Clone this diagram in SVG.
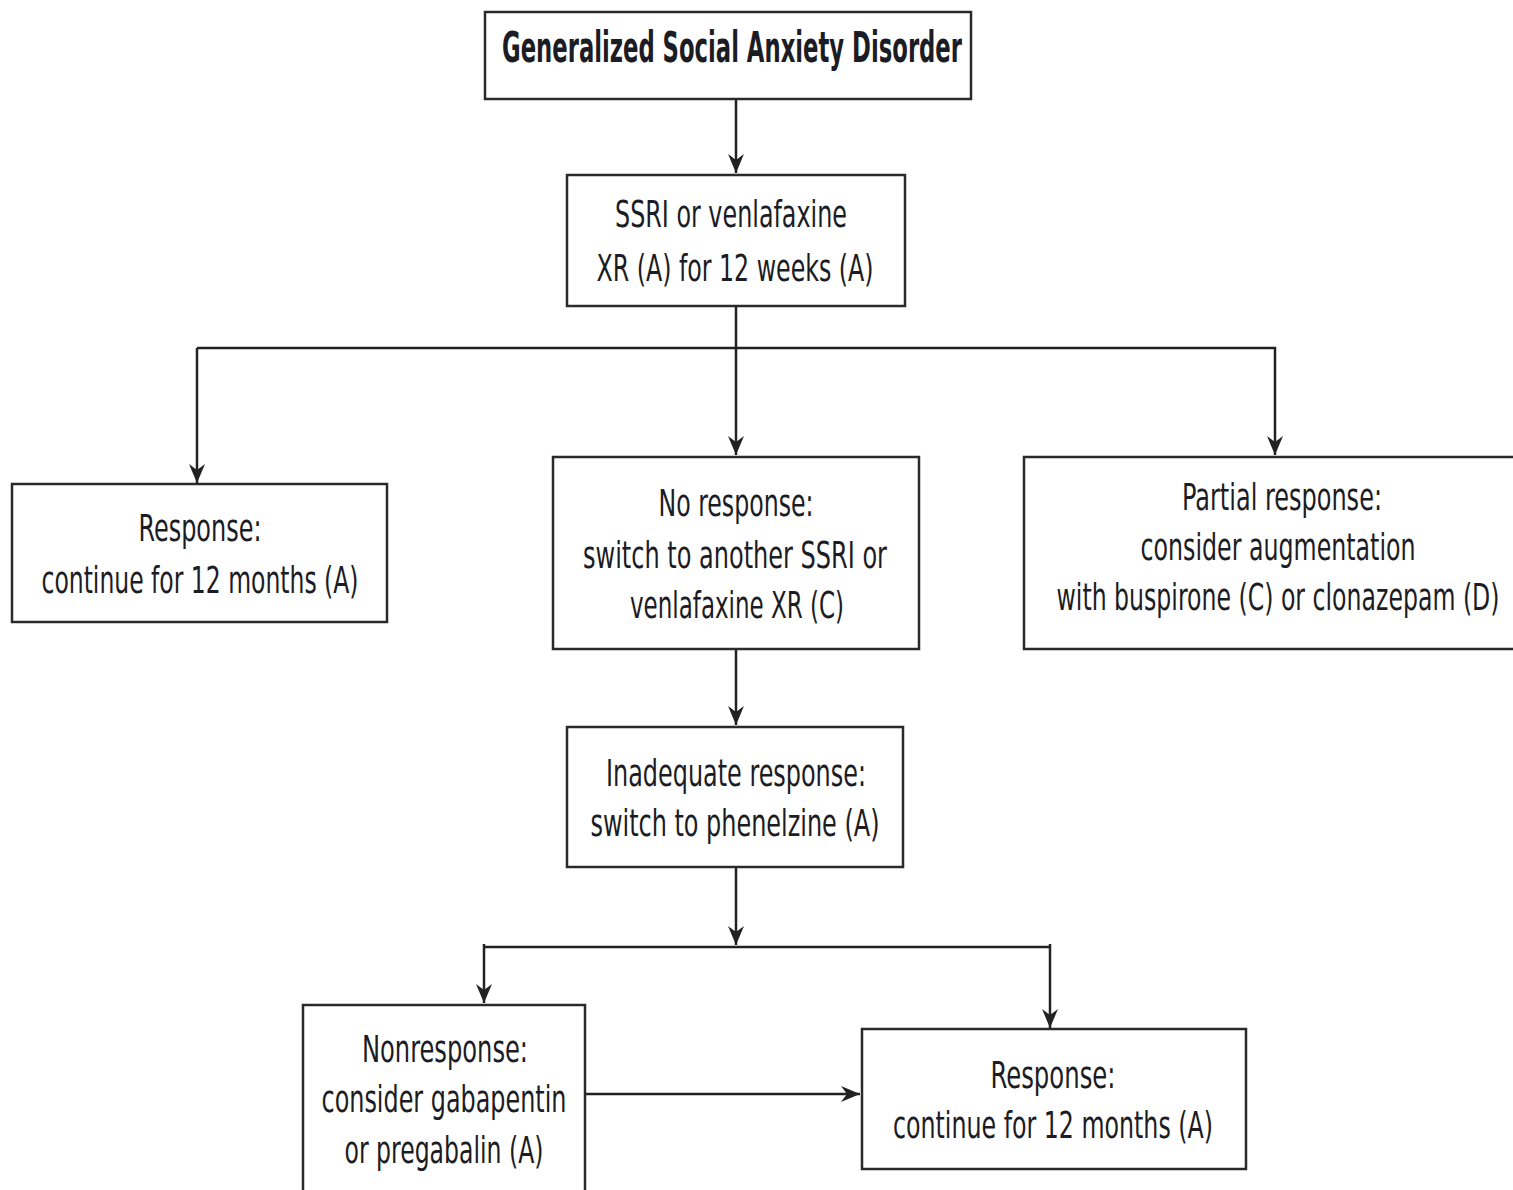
<svg xmlns="http://www.w3.org/2000/svg" width="1513" height="1190" viewBox="0 0 1513 1190">
<style>
.box{fill:#fff;stroke:#2a2a2a;stroke-width:2.5}
.t{font-family:"Liberation Sans Narrow","DejaVu Sans Condensed","Liberation Sans",sans-serif;font-size:38px;fill:#1c1c24;text-anchor:middle}
.b{font-weight:bold;font-size:42px}
.c{fill:none;stroke:#222;stroke-width:2.5}
</style>
<defs>
<marker id="ah" markerUnits="userSpaceOnUse" markerWidth="22" markerHeight="18" viewBox="-20 -9 22 18" refX="0" refY="0" orient="auto">
<path d="M0,0 L-19,-8 L-13,0 L-19,8 Z" fill="#222"/>
</marker>
</defs>
<rect width="1513" height="1190" fill="#fff"/>
<g id="connectors">
<line class="c" x1="736" y1="99" x2="736" y2="173" marker-end="url(#ah)"/>
<line class="c" x1="736" y1="306" x2="736" y2="455" marker-end="url(#ah)"/>
<polyline class="c" points="197,348 1275,348 1275,455" marker-end="url(#ah)"/>
<line class="c" x1="197" y1="348" x2="197" y2="483" marker-end="url(#ah)"/>
<line class="c" x1="736" y1="649" x2="736" y2="725" marker-end="url(#ah)"/>
<line class="c" x1="736" y1="867" x2="736" y2="945" marker-end="url(#ah)"/>
<polyline class="c" points="484,947 1050,947"/>
<line class="c" x1="484" y1="944" x2="484" y2="1003" marker-end="url(#ah)"/>
<line class="c" x1="1050" y1="944" x2="1050" y2="1028" marker-end="url(#ah)"/>
<line class="c" x1="585" y1="1094" x2="860" y2="1094" marker-end="url(#ah)"/>
</g>
<g id="n1">
<rect class="box" x="485" y="12" width="486" height="87"/>
<text class="t b" x="732" y="62" textLength="460" lengthAdjust="spacingAndGlyphs">Generalized Social Anxiety Disorder</text>
</g>
<g id="n2">
<rect class="box" x="567" y="175" width="338" height="131"/>
<text class="t" x="731" y="227" textLength="232" lengthAdjust="spacingAndGlyphs">SSRI or venlafaxine</text>
<text class="t" x="735" y="281" textLength="277" lengthAdjust="spacingAndGlyphs">XR (A) for 12 weeks (A)</text>
</g>
<g id="n3">
<rect class="box" x="12" y="484" width="375" height="138"/>
<text class="t" x="200" y="541" textLength="123" lengthAdjust="spacingAndGlyphs">Response:</text>
<text class="t" x="200" y="593" textLength="317" lengthAdjust="spacingAndGlyphs">continue for 12 months (A)</text>
</g>
<g id="n4">
<rect class="box" x="553" y="457" width="366" height="192"/>
<text class="t" x="736" y="516" textLength="155" lengthAdjust="spacingAndGlyphs">No response:</text>
<text class="t" x="735" y="568" textLength="304" lengthAdjust="spacingAndGlyphs">switch to another SSRI or</text>
<text class="t" x="737" y="618" textLength="214" lengthAdjust="spacingAndGlyphs">venlafaxine XR (C)</text>
</g>
<g id="n5">
<path class="box" d="M1513,457 H1024 V649 H1513"/>
<text class="t" x="1282" y="510" textLength="200" lengthAdjust="spacingAndGlyphs">Partial response:</text>
<text class="t" x="1278" y="560" textLength="275" lengthAdjust="spacingAndGlyphs">consider augmentation</text>
<text class="t" x="1278" y="610" textLength="443" lengthAdjust="spacingAndGlyphs">with buspirone (C) or clonazepam (D)</text>
</g>
<g id="n6">
<rect class="box" x="567" y="727" width="336" height="140"/>
<text class="t" x="736" y="786" textLength="260" lengthAdjust="spacingAndGlyphs">Inadequate response:</text>
<text class="t" x="735" y="836" textLength="289" lengthAdjust="spacingAndGlyphs">switch to phenelzine (A)</text>
</g>
<g id="n7">
<path class="box" d="M303,1190 V1005 H585 V1190"/>
<text class="t" x="445" y="1062" textLength="166" lengthAdjust="spacingAndGlyphs">Nonresponse:</text>
<text class="t" x="444" y="1112" textLength="245" lengthAdjust="spacingAndGlyphs">consider gabapentin</text>
<text class="t" x="444" y="1163" textLength="199" lengthAdjust="spacingAndGlyphs">or pregabalin (A)</text>
</g>
<g id="n8">
<rect class="box" x="862" y="1029" width="384" height="140"/>
<text class="t" x="1053" y="1088" textLength="125" lengthAdjust="spacingAndGlyphs">Response:</text>
<text class="t" x="1053" y="1138" textLength="320" lengthAdjust="spacingAndGlyphs">continue for 12 months (A)</text>
</g>
</svg>
